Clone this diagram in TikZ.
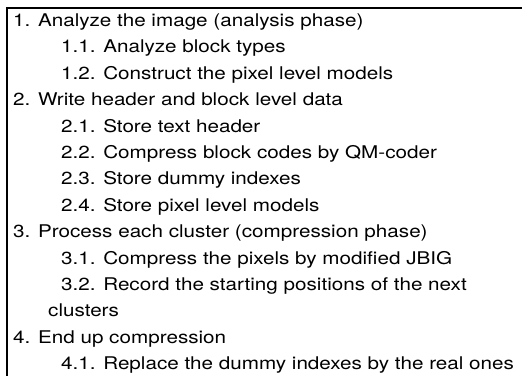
\documentclass[tikz,border=0pt]{standalone}
\usepackage{fontspec}
\setmainfont{TeX Gyre Heros}[FakeStretch=1.18]
\usepackage{tikz}
\usetikzlibrary{positioning}

\begin{document}
\begin{tikzpicture}[
    x=1pt, y=-1pt,
    step1/.style={anchor=base west, inner sep=0pt, font=\fontsize{17.5}{20}\selectfont},
    step2/.style={step1},
    frame/.style={draw=black, line width=2pt}
]
    \useasboundingbox (0,0) rectangle (522,376);
    % Frame (top and left edges only)
    \draw[frame] (522,8) -- (7,8) -- (7,376);

    % Phase 1
    \node[step1] (s1)  at (13,26.5)  {1. Analyze the image (analysis phase)};
    \node[step2] (s11) at (61,52.9)  {1.1. Analyze block types};
    \node[step2] (s12) at (61,79.3)  {1.2. Construct the pixel level models};
    % Phase 2
    \node[step1] (s2)  at (13,105.7) {2. Write header and block level data};
    \node[step2] (s21) at (61,132.1) {2.1. Store text header};
    \node[step2] (s22) at (61,158.5) {2.2. Compress block codes by QM-coder};
    \node[step2] (s23) at (61,184.9) {2.3. Store dummy indexes};
    \node[step2] (s24) at (61,211.3) {2.4. Store pixel level models};
    % Phase 3
    \node[step1] (s3)  at (13,237.7) {3. Process each cluster (compression phase)};
    \node[step2] (s31) at (61,264.1) {3.1. Compress the pixels by modified JBIG};
    \node[step2] (s32) at (61,290.5) {3.2. Record the starting positions of the next};
    \node[step2] (s32b) at (48,316.9) {clusters};
    % Phase 4
    \node[step1] (s4)  at (13,343.3) {4. End up compression};
    \node[step2] (s41) at (61,369.7) {4.1. Replace the dummy indexes by the real ones};
\end{tikzpicture}
\end{document}
